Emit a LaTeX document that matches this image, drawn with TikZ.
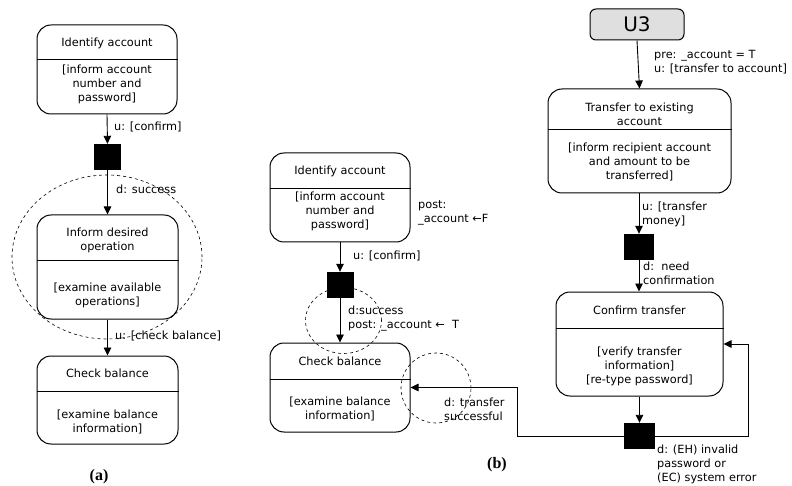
\documentclass[tikz,border=0pt]{standalone}
\usepackage{fontspec}
\setmainfont{DejaVu Sans}
\newfontfamily\capfont{Liberation Serif}
\usetikzlibrary{arrows.meta,positioning,calc}

\tikzset{
  statebox/.style={draw,rounded corners=14pt,line width=1pt,inner sep=0pt},
  bar/.style={fill=black,inner sep=0pt,minimum width=27pt,minimum height=26pt},
  flow/.style={line width=0.9pt,-{Triangle[length=8pt,width=7.5pt]}},
  txt/.style={align=center,inner sep=0pt},
  lab/.style={align=left,anchor=west,inner sep=0pt},
  zone/.style={draw,dashed,line width=0.6pt}
}

\begin{document}
\begin{tikzpicture}[x=1pt,y=-1pt,font=\fontsize{11.3}{14}\selectfont]
\useasboundingbox (0,0) rectangle (792,486);

% (a)
\node[statebox,minimum width=140pt,minimum height=89pt] (idA) at (107,69.5) {};
\node[txt] (idAt) at (107,43) {Identify account};
\node[txt] (idAb) at (107,84) {[inform account\\number and\\password]};
\node[bar] (barA) at (107.5,157) {};
\node[statebox,minimum width=141pt,minimum height=104pt] (infA) at (107.5,267) {};
\node[txt] (infAt) at (107.5,240) {Inform desired\\operation};
\node[txt] (infAb) at (107.5,295) {[examine available\\operations]};
\node[statebox,minimum width=141pt,minimum height=88pt] (chkA) at (107.5,400) {};
\node[txt] (chkAt) at (107.5,373) {Check balance};
\node[txt] (chkAb) at (107.5,422) {[examine balance\\information]};

\draw[zone] (107,257) ellipse [x radius=95pt,y radius=82pt];
\draw[flow] (idA.south) -- (barA.north);
\draw[flow] (barA.south) -- (infA.north);
\draw[flow] (infA.south) -- (chkA.north);
\node[lab] (uA1) at (114,127) {u: [confirm]};
\node[lab] (dA1) at (116,189) {d: success};
\node[lab] (uA2) at (115,336) {u: [check balance]};
\node (capA) at (99,477) {\capfont\fontsize{16}{16}\selectfont\bfseries (a)};

% (b)
\node[statebox,minimum width=140pt,minimum height=89pt] (idB) at (340,197.5) {};
\node[txt] (idBt) at (340,171) {Identify account};
\node[txt] (idBb) at (340,211) {[inform account\\number and\\password]};
\node[bar] (barB1) at (340,285) {};
\node[statebox,minimum width=140pt,minimum height=89pt] (chkB) at (340,387.5) {};
\node[txt] (chkBt) at (340,361) {Check balance};
\node[txt] (chkBb) at (340,409) {[examine balance\\information]};

\node[statebox,rounded corners=6pt,fill=gray!25,minimum width=94pt,minimum height=31pt,
  font=\fontsize{20}{20}\selectfont] (u3) at (637,24.5) {U3};
\node[statebox,minimum width=183pt,minimum height=104pt] (trf) at (639.5,141) {};
\node[txt] (trft) at (639.5,114) {Transfer to existing\\account};
\node[txt] (trfb) at (639.5,162) {[inform recipient account\\and amount to be\\transferred]};
\node[bar,minimum width=30pt] (barB2) at (639,247) {};
\node[statebox,minimum width=167pt,minimum height=104pt] (cnf) at (639.5,344) {};
\node[txt] (cnft) at (639.5,310) {Confirm transfer};
\node[txt] (cnfb) at (639.5,366) {[verify transfer\\information]\\{}[re-type password]};
\node[bar,minimum width=31pt] (barB3) at (639.5,436) {};

\foreach \b/\y in {idA/60,infA/260.5,chkA/391,idB/189,chkB/379,trf/130,cnf/328}
  \draw[line width=1pt] (\b.west |- 0,\y) -- (\b.east |- 0,\y);

\draw[zone] (343.5,320.5) ellipse [x radius=38pt,y radius=33pt];
\draw[zone] (436,388) circle [radius=35pt];

\coordinate (turnB) at (517,436);
\coordinate (turnC) at (748,436);
\draw[flow] (idB.south) -- (barB1.north);
\draw[flow] (barB1.south) -- (chkB.north);
\draw[flow] (u3.south) -- (trf.north);
\draw[flow] (trf.south -| barB2.north) -- (barB2.north);
\draw[flow] (barB2.south) -- (cnf.north -| barB2.south);
\draw[flow] (cnf.south) -- (barB3.north);
\draw[flow] (barB3.west) -- (turnB) |- (chkB.east);
\draw[flow] (barB3.east) -- (turnC) |- (cnf.east);

\node[lab] (postB1) at (418,213) {post:\\\_account ←F};
\node[lab] (uB1) at (353,256) {u: [confirm]};
\node[lab] (dB1) at (348,318.5) {d:success\\post: \_account ← \ T};
\node[lab] (dB2) at (444,409) {d: transfer\\successful};
\node[lab] (preB) at (654,62) {pre: \_account = T\\u: [transfer to account]};
\node[lab] (uB2) at (642,214) {u: [transfer\\money]};
\node[lab] (dB3) at (643,273.5) {d:\ \ need\\confirmation};
\node[lab] (dB4) at (657,464) {d: (EH) invalid\\password or\\(EC) system error};
\node (capB) at (497,465) {\capfont\fontsize{16}{16}\selectfont\bfseries (b)};
\end{tikzpicture}
\end{document}
